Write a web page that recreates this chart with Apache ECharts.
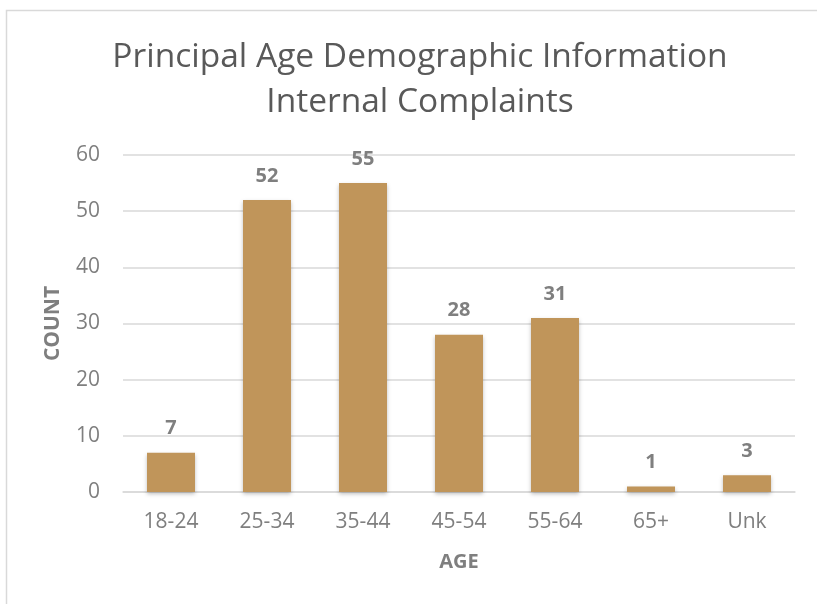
<!DOCTYPE html>
<html><head><meta charset="utf-8">
<script src="https://cdn.jsdelivr.net/npm/echarts@6/dist/echarts.min.js"></script>
<style>html,body{margin:0;padding:0;background:#fff}#c{width:817px;height:604px}</style>
</head><body><div id="c"></div>
<script>
const categories = ['18-24','25-34','35-44','45-54','55-64','65+','Unk'];
const counts = [7,52,55,28,31,1,3];
const yTicks = [0,10,20,30,40,50,60];

const chart = echarts.init(document.getElementById('c'));
const font = '"Open Sans", "Liberation Sans", sans-serif';
chart.setOption({
  animation:false,
  backgroundColor:'#fff',
  graphic:[{type:'rect',shape:{x:6.5,y:10.5,width:900,height:700},style:{fill:'none',stroke:'#d9d9d9',lineWidth:1.5},silent:true}],
  title:{text:'Principal Age Demographic Information\nInternal Complaints',left:415,textAlign:'center',top:30,
    textStyle:{fontFamily:font,fontSize:33.5,fontWeight:'normal',color:'#595959',lineHeight:45}},
  grid:{left:123,right:22,top:155,bottom:112,containLabel:false},
  xAxis:{type:'category',data:categories,name:'AGE',nameLocation:'middle',nameGap:60,
    nameTextStyle:{fontFamily:font,fontSize:20,fontWeight:'bold',color:'#7f7f7f'},
    axisLine:{lineStyle:{color:'#d9d9d9',width:1.5}},axisTick:{show:false},
    axisLabel:{fontFamily:font,fontSize:21,color:'#7f7f7f',margin:20}},
  yAxis:{type:'value',min:yTicks[0],max:yTicks[yTicks.length-1],interval:10,name:'COUNT',nameLocation:'middle',nameGap:59,
    nameTextStyle:{fontFamily:font,fontSize:21,fontWeight:'bold',color:'#7f7f7f'},
    axisLine:{show:false},axisTick:{show:false},
    axisLabel:{fontFamily:font,fontSize:21,color:'#7f7f7f',margin:23},
    splitLine:{lineStyle:{color:'#d9d9d9',width:1.5}}},
  series:[{type:'bar',data:counts,barWidth:'50%',
    itemStyle:{color:'#C0955A',shadowColor:'rgba(0,0,0,0.25)',shadowBlur:4,shadowOffsetY:2},
    label:{show:true,position:'top',distance:14,fontFamily:font,fontSize:20,fontWeight:'bold',color:'#7f7f7f'}}]
});
</script></body></html>
